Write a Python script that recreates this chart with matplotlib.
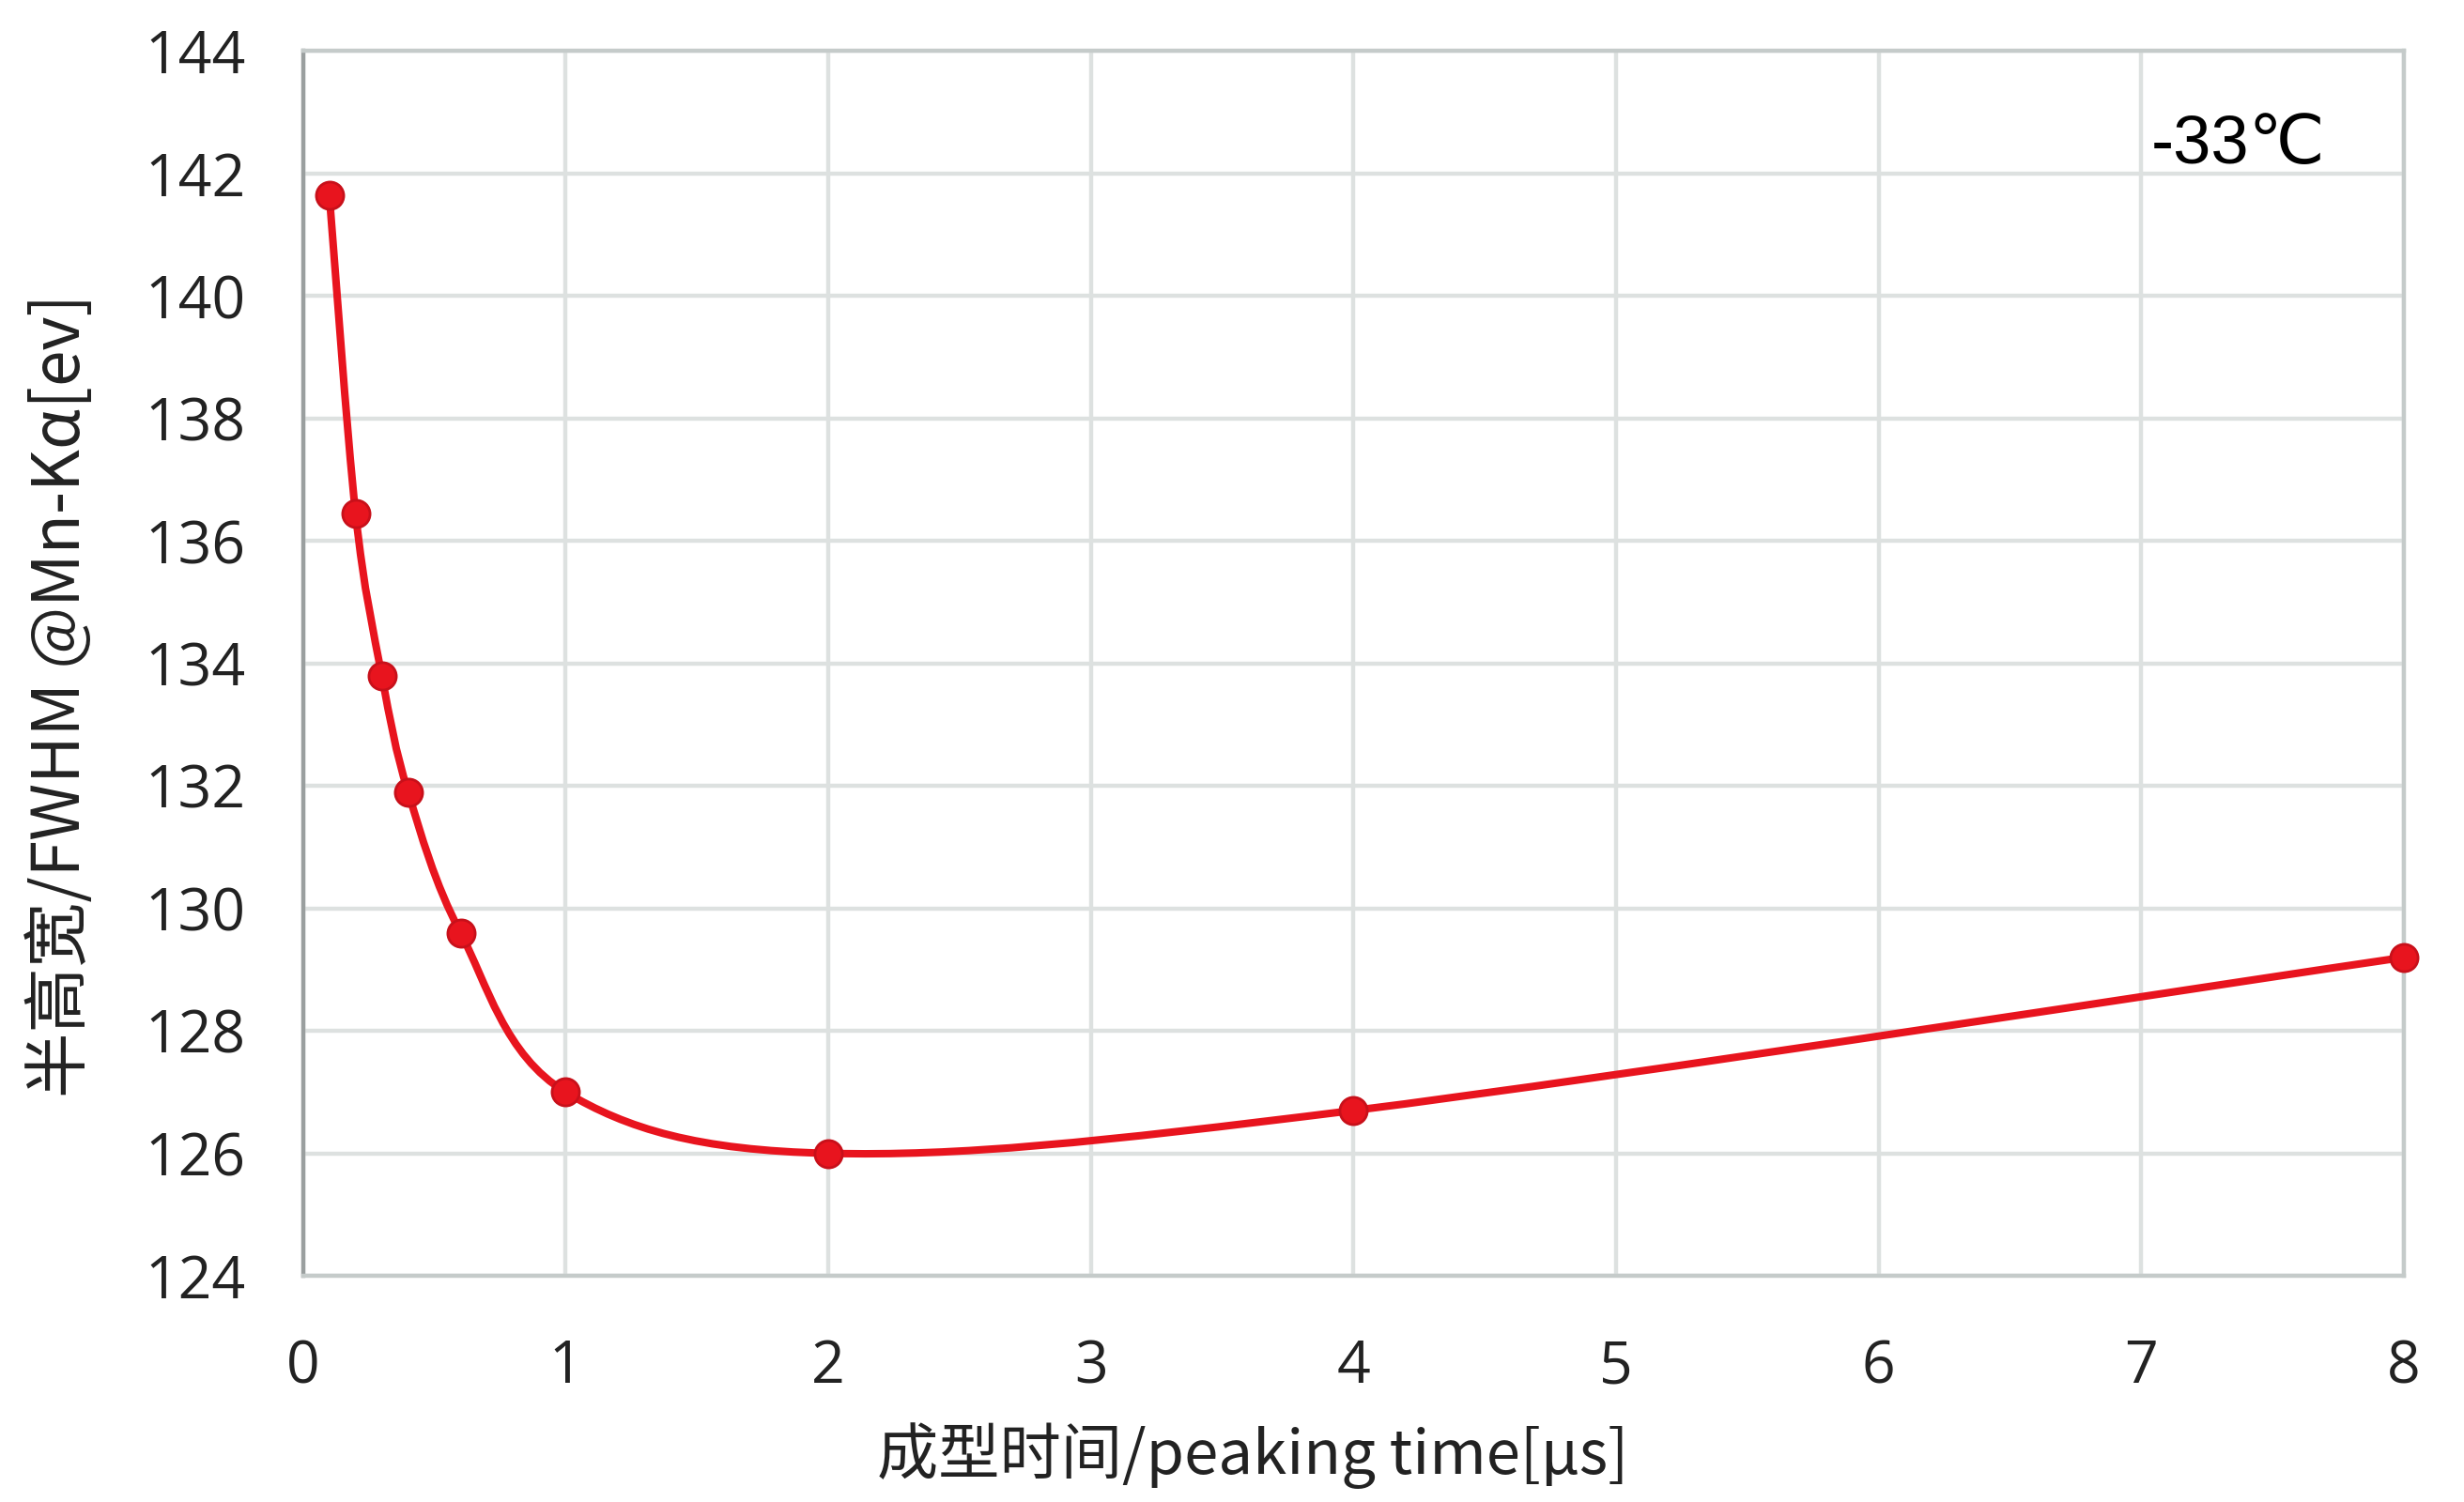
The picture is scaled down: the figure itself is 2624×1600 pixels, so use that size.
import numpy as np
import matplotlib.pyplot as plt
from matplotlib.path import Path
from matplotlib.patches import PathPatch

plt.rcParams['font.family'] = ['Noto Sans CJK SC', 'DejaVu Sans']

# 数据
tiempo = [0.1, 0.2, 0.3, 0.4, 0.6, 1, 2, 4, 8]
fwhm = [141.65, 136.45, 133.8, 131.9, 129.6, 127.0, 126.0, 126.7, 129.2]
xticks = [0, 1, 2, 3, 4, 5, 6, 7, 8]
yticks = [124, 126, 128, 130, 132, 134, 136, 138, 140, 142, 144]

rojo = '#e8141e'

fig = plt.figure(figsize=(13.12, 8), dpi=200)
ax = fig.add_axes([0.123, 0.1506, 0.8526, 0.8154])

# curva suavizada (bezier tipo Excel)
pts = np.column_stack([tiempo, fwhm])
verts = [tuple(pts[0])]
codes = [Path.MOVETO]
n = len(pts)
for i in range(n - 1):
    p0 = pts[max(i - 1, 0)]
    p1 = pts[i]
    p2 = pts[i + 1]
    p3 = pts[min(i + 2, n - 1)]
    c1 = p1 + (p2 - p0) / 6
    c2 = p2 - (p3 - p1) / 6
    verts += [tuple(c1), tuple(c2), tuple(p2)]
    codes += [Path.CURVE4] * 3
ax.add_patch(PathPatch(Path(verts, codes), fill=False, edgecolor=rojo,
                       lw=2.9, zorder=3, clip_on=False))
ax.plot(tiempo, fwhm, 'o', color=rojo, markersize=10.5,
        markeredgecolor='#c8101a', markeredgewidth=1, zorder=4, clip_on=False)

ax.set_xlim(0, 8)
ax.set_ylim(124, 144)
ax.set_xticks(xticks)
ax.set_yticks(yticks)
ax.grid(True, color='#dde1e0', lw=1.6)
ax.set_axisbelow(True)
for s in ax.spines.values():
    s.set_color('#c5cbca')
    s.set_linewidth(1.6)
ax.spines['left'].set_color('#9a9f9f')
ax.tick_params(length=0, labelsize=22.5, colors='#222222')
ax.tick_params(axis='y', pad=22)
ax.tick_params(axis='x', pad=24)
for lab in ax.get_xticklabels() + ax.get_yticklabels():
    lab.set_family(['Open Sans', 'DejaVu Sans'])

ax.set_xlabel('成型时间/peaking time[μs]', fontsize=23.5, color='#222222')
ax.set_ylabel('半高宽/FWHM @Mn-Kα[ev]', fontsize=25, color='#222222')
ax.xaxis.set_label_coords(0.452, -0.12)
ax.yaxis.set_label_coords(-0.099, 0.474)
ax.text(7.37, 142.45, '-33℃', fontsize=26, ha='center', va='center',
        family=['Liberation Sans', 'DejaVu Sans'], color='black')

fig.savefig('out.png', dpi=200, facecolor='white')
